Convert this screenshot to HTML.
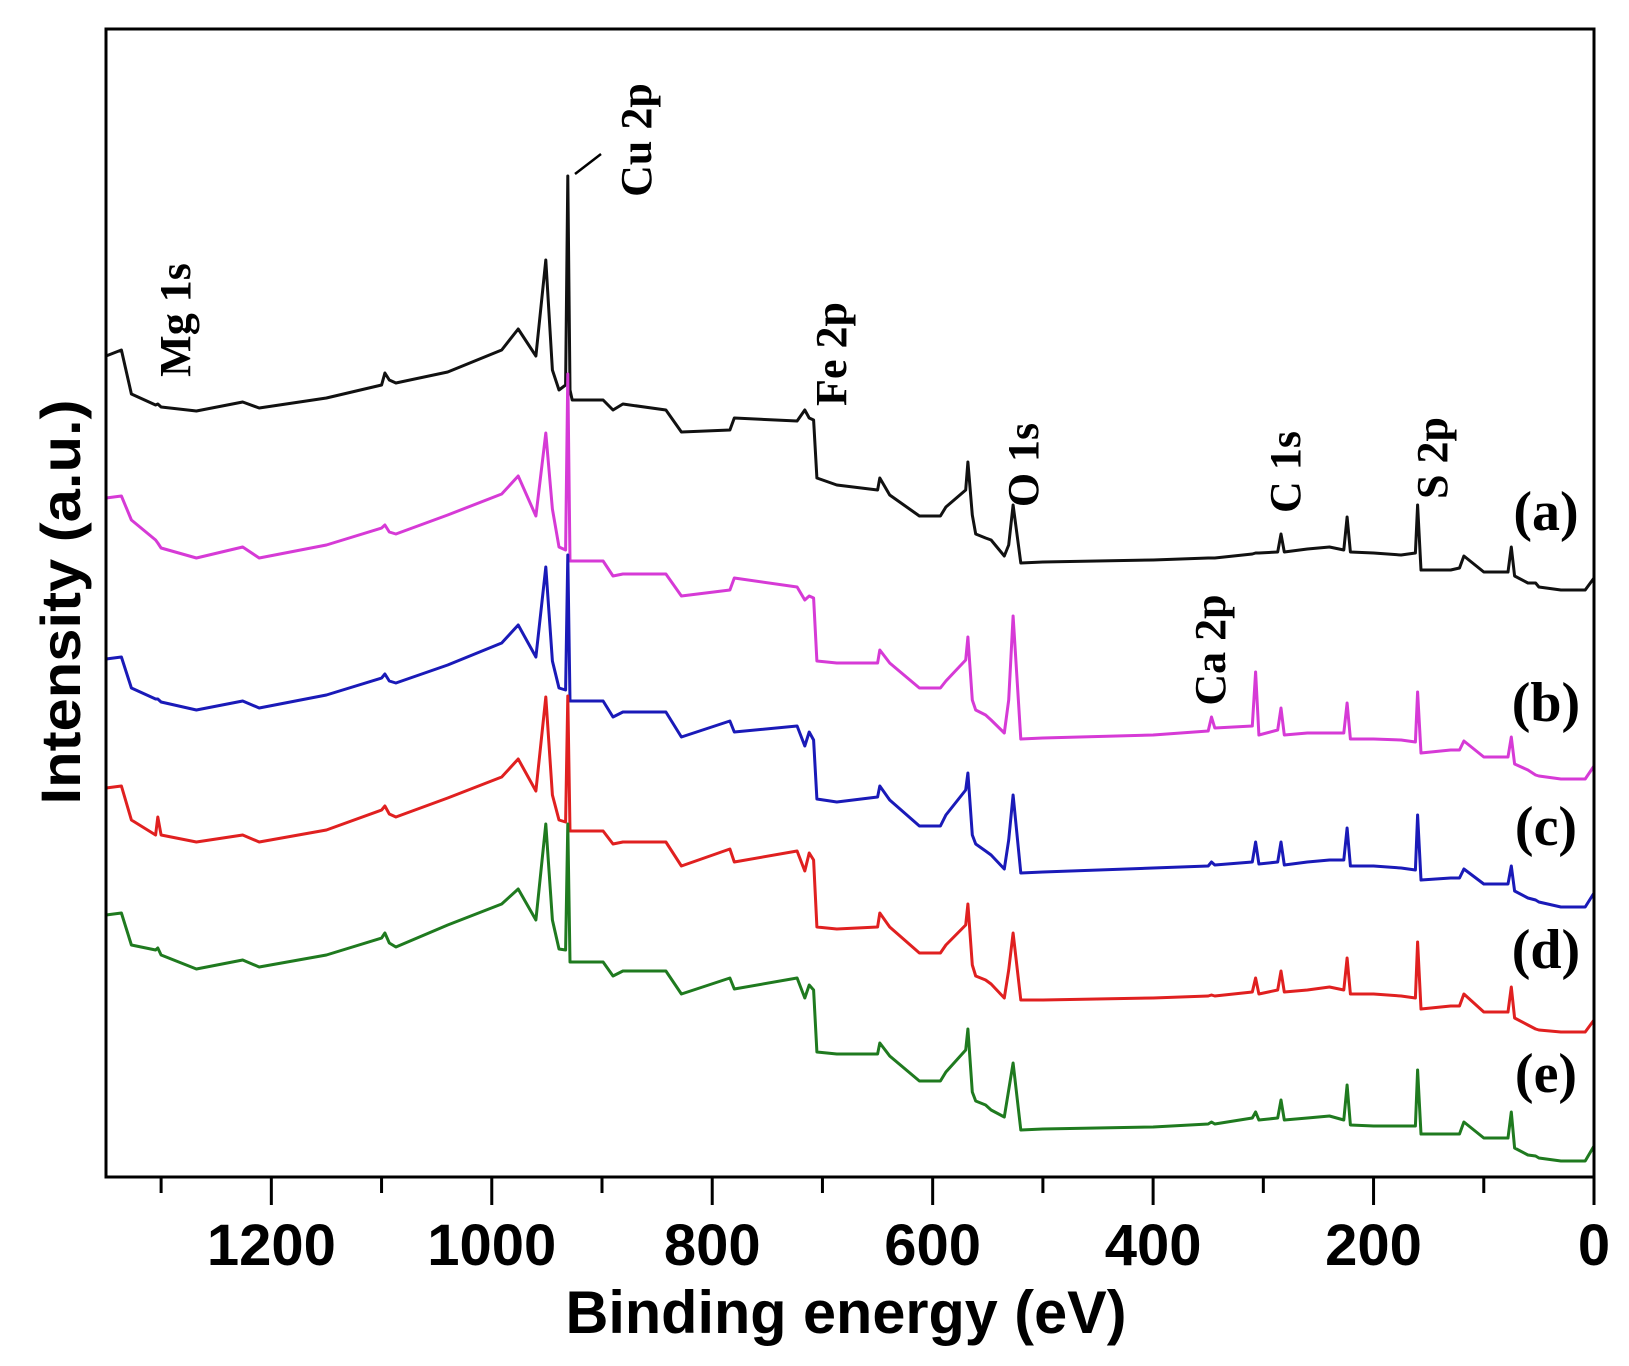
<!DOCTYPE html>
<html><head><meta charset="utf-8"><style>
html,body{margin:0;padding:0;background:#fff;}
svg{display:block;}
</style></head><body>
<svg id="chart" width="1629" height="1366" viewBox="0 0 1629 1366" xmlns="http://www.w3.org/2000/svg">
<rect x="0" y="0" width="1629" height="1366" fill="#fff"/>
<g id="series"></g>
<rect x="106" y="29" width="1488" height="1148" fill="none" stroke="#000" stroke-width="3"/>
<g id="ticks"></g>
<text x="846" y="1333" text-anchor="middle" font-family="Liberation Sans, sans-serif" font-weight="bold" font-size="60" textLength="561" lengthAdjust="spacingAndGlyphs">Binding energy (eV)</text>
<text transform="translate(80,602) rotate(-90)" text-anchor="middle" font-family="Liberation Sans, sans-serif" font-weight="bold" font-size="56" textLength="405" lengthAdjust="spacingAndGlyphs">Intensity (a.u.)</text>
<g font-family="Liberation Serif, serif" font-weight="bold" font-size="44">
<text transform="translate(190,320) rotate(-90)" text-anchor="middle">Mg 1s</text>
<text transform="translate(651,140) rotate(-90)" text-anchor="middle">Cu 2p</text>
<text transform="translate(846,354) rotate(-90)" text-anchor="middle">Fe 2p</text>
<text transform="translate(1038,465) rotate(-90)" text-anchor="middle">O 1s</text>
<text transform="translate(1300,472) rotate(-90)" text-anchor="middle">C 1s</text>
<text transform="translate(1447,458) rotate(-90)" text-anchor="middle">S 2p</text>
<text transform="translate(1225,650) rotate(-90)" text-anchor="middle">Ca 2p</text>
</g>
<line x1="575" y1="174" x2="601" y2="154" stroke="#000" stroke-width="2.5"/>
<g font-family="Liberation Serif, serif" font-weight="bold" font-size="56" text-anchor="middle">
<text x="1546" y="530">(a)</text>
<text x="1546" y="721">(b)</text>
<text x="1546" y="845">(c)</text>
<text x="1546" y="968">(d)</text>
<text x="1546" y="1092">(e)</text>
</g>
</svg>
<script>
const energies=[1350,1336,1327,1305,1303,1300,1268,1226,1211,1150,1100,1097,1093,1087,1040,991,976,960,951,945,939,933,931,929,927,899,890,881,842,828,784,780,723,716,712,708,705,687,650,648,639,612,593,588,570,568,564,561,552,547,535,531,527,520,500,400,350,347,344,310,307,304,287,284,281,260,240,227,224,221,200,175,162,160,157,130,122,118,100,78,75,72,60,53,50,30,8,0];
const seriesA=[821,827,783,772,773,770,766,775,769,779,792,804,797,794,805,827,848,821,917,807,787,792,1001,787,777,777,767,773,767,745,747,759,756,767,759,757,699,692,687,699,682,661,661,670,687,715,662,643,639,637,621,632,672,614,615,617,619,619,619,623,624,624,625,643,625,628,630,627,660,625,624,622,624,672,607,607,609,621,605,605,630,601,594,594,590,587,587,599];
const seriesB=[679,681,657,637,634,629,619,630,619,632,649,652,645,643,662,683,701,661,744,668,630,627,803,616,616,616,601,603,603,581,587,599,590,577,581,579,516,514,514,527,514,489,489,496,517,540,477,467,462,457,444,477,561,438,439,442,446,460,449,451,505,442,447,469,442,444,444,444,474,438,438,437,435,485,424,427,427,436,420,420,440,413,407,402,401,398,398,411];
const seriesC=[518,520,489,478,478,475,467,476,469,482,499,503,496,494,512,534,552,520,610,516,489,487,622,476,476,476,460,465,465,440,456,445,451,431,445,437,378,375,380,391,377,351,351,362,387,404,342,333,326,322,308,337,382,304,305,309,311,315,312,315,335,313,315,335,312,315,317,317,349,311,311,309,307,362,297,299,299,308,293,293,311,286,279,277,275,270,270,284];
const seriesD=[389,391,357,342,360,342,335,342,335,347,367,371,363,360,379,400,418,386,480,382,357,355,481,346,346,346,333,335,335,311,328,315,326,306,324,317,250,248,250,264,250,224,224,232,252,273,212,201,197,193,179,207,244,177,177,179,181,182,181,185,199,183,187,206,185,187,190,187,219,183,183,181,179,235,168,171,171,183,165,165,190,159,152,148,147,145,145,157];
const seriesE=[262,264,232,227,229,222,208,217,210,222,239,244,234,230,252,273,288,257,353,257,228,227,353,215,215,215,201,206,206,183,199,188,199,179,192,187,125,123,123,134,121,96,96,105,127,148,85,76,72,67,60,87,114,47,48,50,53,55,53,59,65,57,59,77,57,59,61,57,92,52,51,51,51,107,43,43,43,55,39,39,65,29,22,21,19,16,16,31];
const seriesNames=['a','b','c','d','e'];
const seriesColors=['#111111','#d63ad6','#1a1ab8','#e02020','#1f7a1f'];
const majorTicks=[1200,1000,800,600,400,200,0];
const minorTicks=[1300,1100,900,700,500,300,100];

const X0=106,X1=1594,Y0=1177,Y1=29;
const EMAX=1350,EMIN=0,IMIN=0,IMAX=1148;
function xs(e){return X1-(e-EMIN)/(EMAX-EMIN)*(X1-X0);}
function ys(v){return Y0-(v-IMIN)/(IMAX-IMIN)*(Y0-Y1);}
const NS='http://www.w3.org/2000/svg';
const g=document.getElementById('series');
[seriesA,seriesB,seriesC,seriesD,seriesE].forEach((vals,i)=>{
  const p=document.createElementNS(NS,'path');
  let d='';
  vals.forEach((v,k)=>{d+=(k?'L':'M')+xs(energies[k]).toFixed(1)+','+ys(v).toFixed(1);});
  p.setAttribute('d',d);
  p.setAttribute('fill','none');
  p.setAttribute('stroke',seriesColors[i]);
  p.setAttribute('stroke-width','3');
  p.setAttribute('stroke-linejoin','round');
  
  
  g.appendChild(p);
});
const t=document.getElementById('ticks');
majorTicks.forEach(e=>{
  const l=document.createElementNS(NS,'line');
  l.setAttribute('x1',xs(e));l.setAttribute('x2',xs(e));
  l.setAttribute('y1',Y0);l.setAttribute('y2',Y0+28);
  l.setAttribute('stroke','#000');l.setAttribute('stroke-width','3');
  
  
  t.appendChild(l);
  const tx=document.createElementNS(NS,'text');
  tx.setAttribute('x',xs(e));tx.setAttribute('y',1265);
  tx.setAttribute('text-anchor','middle');
  tx.setAttribute('font-family','Liberation Sans, sans-serif');
  tx.setAttribute('font-weight','bold');
  tx.setAttribute('font-size','58');
  tx.textContent=String(e);
  
  
  t.appendChild(tx);
});
minorTicks.forEach(e=>{
  const l=document.createElementNS(NS,'line');
  l.setAttribute('x1',xs(e));l.setAttribute('x2',xs(e));
  l.setAttribute('y1',Y0);l.setAttribute('y2',Y0+16);
  l.setAttribute('stroke','#000');l.setAttribute('stroke-width','3');
  
  
  t.appendChild(l);
});
</script>
</body></html>
